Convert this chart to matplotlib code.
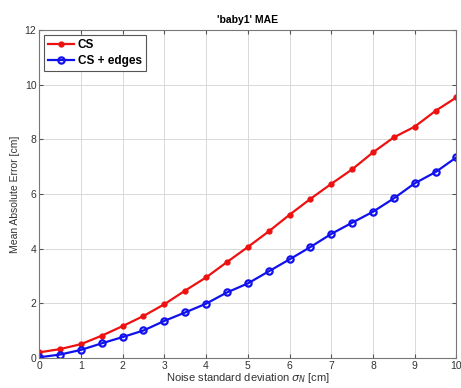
import numpy as np
import matplotlib.pyplot as plt

plt.rcParams['font.family'] = ['Liberation Sans', 'DejaVu Sans']
plt.rcParams['mathtext.fontset'] = 'dejavusans'

# noise level (cm) and mean absolute error for both reconstructions
sigma = [0, 0.5, 1, 1.5, 2, 2.5, 3, 3.5, 4, 4.5, 5,
         5.5, 6, 6.5, 7, 7.5, 8, 8.5, 9, 9.5, 10]
mae_cs = [0.21, 0.33, 0.51, 0.82, 1.17, 1.54, 1.97, 2.47, 2.95, 3.51, 4.06,
          4.63, 5.24, 5.82, 6.37, 6.90, 7.52, 8.07, 8.46, 9.04, 9.53]
mae_cs_edges = [0.03, 0.13, 0.30, 0.54, 0.77, 1.01, 1.36, 1.67, 1.99, 2.40, 2.73,
                3.17, 3.61, 4.06, 4.54, 4.95, 5.35, 5.84, 6.39, 6.80, 7.34]

fig = plt.figure(figsize=(4.61, 3.88), dpi=100)
ax = fig.add_axes([0.085, 0.077, 0.905, 0.846])

ax.plot(sigma, mae_cs, '-o', color='#ee1111', lw=1.6, ms=3.5,
        mfc='#ee1111', mec='#ee1111', label='CS')
ax.plot(sigma, mae_cs_edges, '-o', color='#1111ee', lw=1.6, ms=4.5,
        mfc='none', mec='#1111ee', mew=1.6, label='CS + edges')

ax.set_xlim(0, 10)
ax.set_ylim(0, 12)
ax.set_xticks(range(0, 11))
ax.set_yticks(range(0, 13, 2))
ax.grid(True, color='#d8d8d8', lw=0.7)
ax.tick_params(direction='in', top=True, right=True, labelsize=7.5,
               length=3, color='#555555', labelcolor='#333333', pad=2)
for s in ax.spines.values():
    s.set_color('#777777')
    s.set_linewidth(0.8)

ax.set_title("'baby1' MAE", fontsize=7.5, fontweight='bold', pad=5)
ax.set_xlabel(r'Noise standard deviation $\sigma_N$ [cm]', fontsize=8,
              color='#333333', labelpad=0)
ax.set_ylabel('Mean Absolute Error [cm]', fontsize=7.5, color='#333333',
              labelpad=3)

leg = ax.legend(loc='upper left', prop={'weight': 'bold', 'size': 8.5},
                fancybox=False, framealpha=1, edgecolor='#555555',
                borderpad=0.35, handlelength=2.2, handletextpad=0.3,
                labelspacing=0.35, borderaxespad=0.4)
leg.get_frame().set_linewidth(0.8)

fig.savefig('out.png', dpi=100)
